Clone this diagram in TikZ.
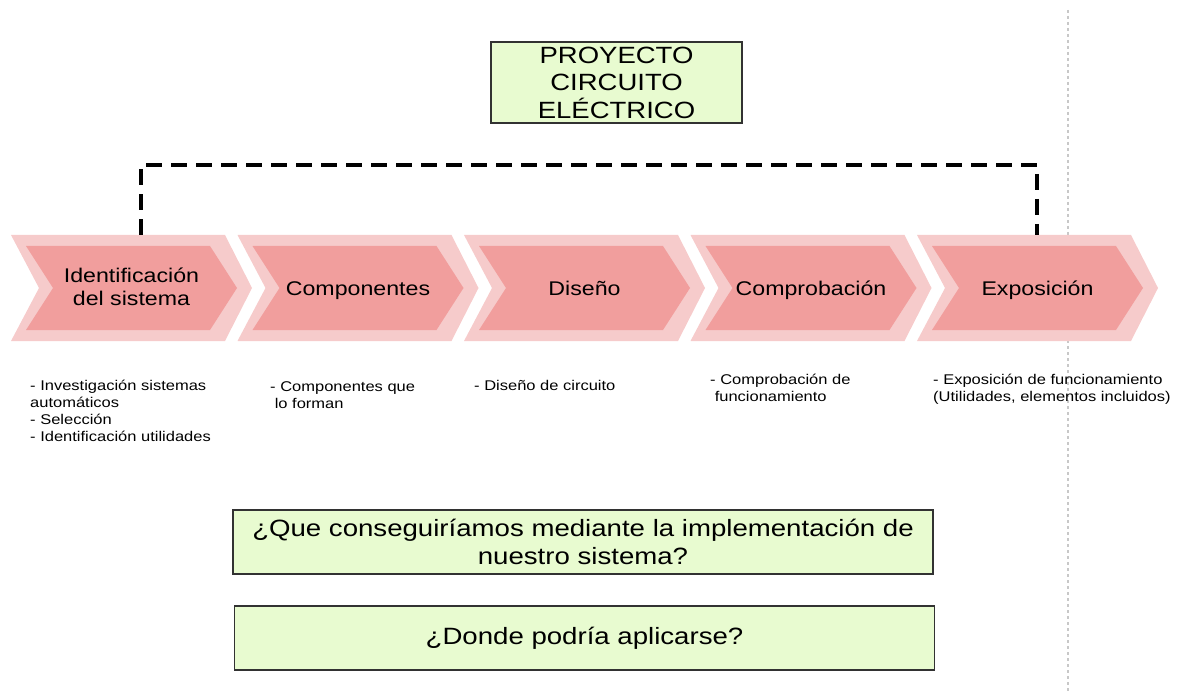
\documentclass[tikz,border=0pt]{standalone}
\usepackage{fontspec}
\setmainfont[FakeStretch=1.17]{Liberation Sans}
\definecolor{chevout}{RGB}{246,203,203}
\definecolor{chevin}{RGB}{241,158,157}
\definecolor{boxgreen}{RGB}{232,251,208}
\definecolor{boxline}{RGB}{50,50,50}
\definecolor{guidegray}{RGB}{200,200,200}
\begin{document}
\begin{tikzpicture}[x=1pt,y=-1pt,
  outerchev/.style={fill=chevout},
  innerchev/.style={fill=chevin},
  steplabel/.style={align=center,anchor=base,inner sep=0pt,font=\fontsize{19.8}{23}\selectfont},
  greenbox/.style={draw=boxline,line width=1.1pt,fill=boxgreen,align=center,inner sep=0pt},
  conn/.style={line width=3.5pt,dash pattern=on 16pt off 9pt},
  guide/.style={draw=guidegray,line width=1.3pt,dash pattern=on 3pt off 3pt},
  note/.style={align=left,anchor=base west,inner sep=0pt,font=\fontsize{14.1}{17}\selectfont}]
\useasboundingbox (0,0) rectangle (1177,692);
% grey guide line
\draw[guide] (1068,10) -- (1068,692);
% chevrons
\foreach \i/\yb/\lab in {1/306/{Identificación\\del sistema},2/296/{Componentes},3/296/{Diseño},4/296/{Comprobación},5/296/{Exposición}}{
  \pgfmathsetmacro{\xo}{11+226.5*(\i-1)}
  \fill[outerchev] (\xo,235) -- ++(214,0) -- ++(27,53) -- ++(-27,53) -- ++(-214,0) -- ++(28,-53) -- cycle;
  \fill[innerchev] (\xo+15,246) -- ++(184,0) -- ++(27,42) -- ++(-27,42) -- ++(-184,0) -- ++(27,-42) -- cycle;
  \node[steplabel] (c\i) at (\xo+120.5,\yb) {\lab};
}
% top box
\node[greenbox,minimum width=251pt,minimum height=81pt,font=\fontsize{23.5}{27.5}\selectfont] (proj) at (616.5,82.5) {PROYECTO\\CIRCUITO\\ELÉCTRICO};
% dashed connector
\coordinate (d1) at (141,235);
\coordinate (d5) at (1037,235);
\draw[conn] (d1) -- ++(0,-70) -| (d5);
% notes (base anchor = baseline of last line)
\node[note] (n1) at (30,441) {- Investigación sistemas\\automáticos\\- Selección\\- Identificación utilidades};
\node[note] (n2) at (270,408) {- Componentes que\\~lo forman};
\node[note] (n3) at (474,390) {- Diseño de circuito};
\node[note] (n4) at (710,401) {- Comprobación de\\~funcionamiento};
\node[note] (n5) at (933,401) {- Exposición de funcionamiento\\(Utilidades, elementos incluidos)};
% question boxes
\node[greenbox,minimum width=700pt,minimum height=64pt,font=\fontsize{23.6}{28}\selectfont] (q1) at (583,542) {¿Que conseguiríamos mediante la implementación de\\nuestro sistema?};
\node[greenbox,minimum width=700pt,minimum height=64pt,font=\fontsize{23.6}{28}\selectfont] (q2) at (584.5,638) {¿Donde podría aplicarse?};
\end{tikzpicture}
\end{document}
